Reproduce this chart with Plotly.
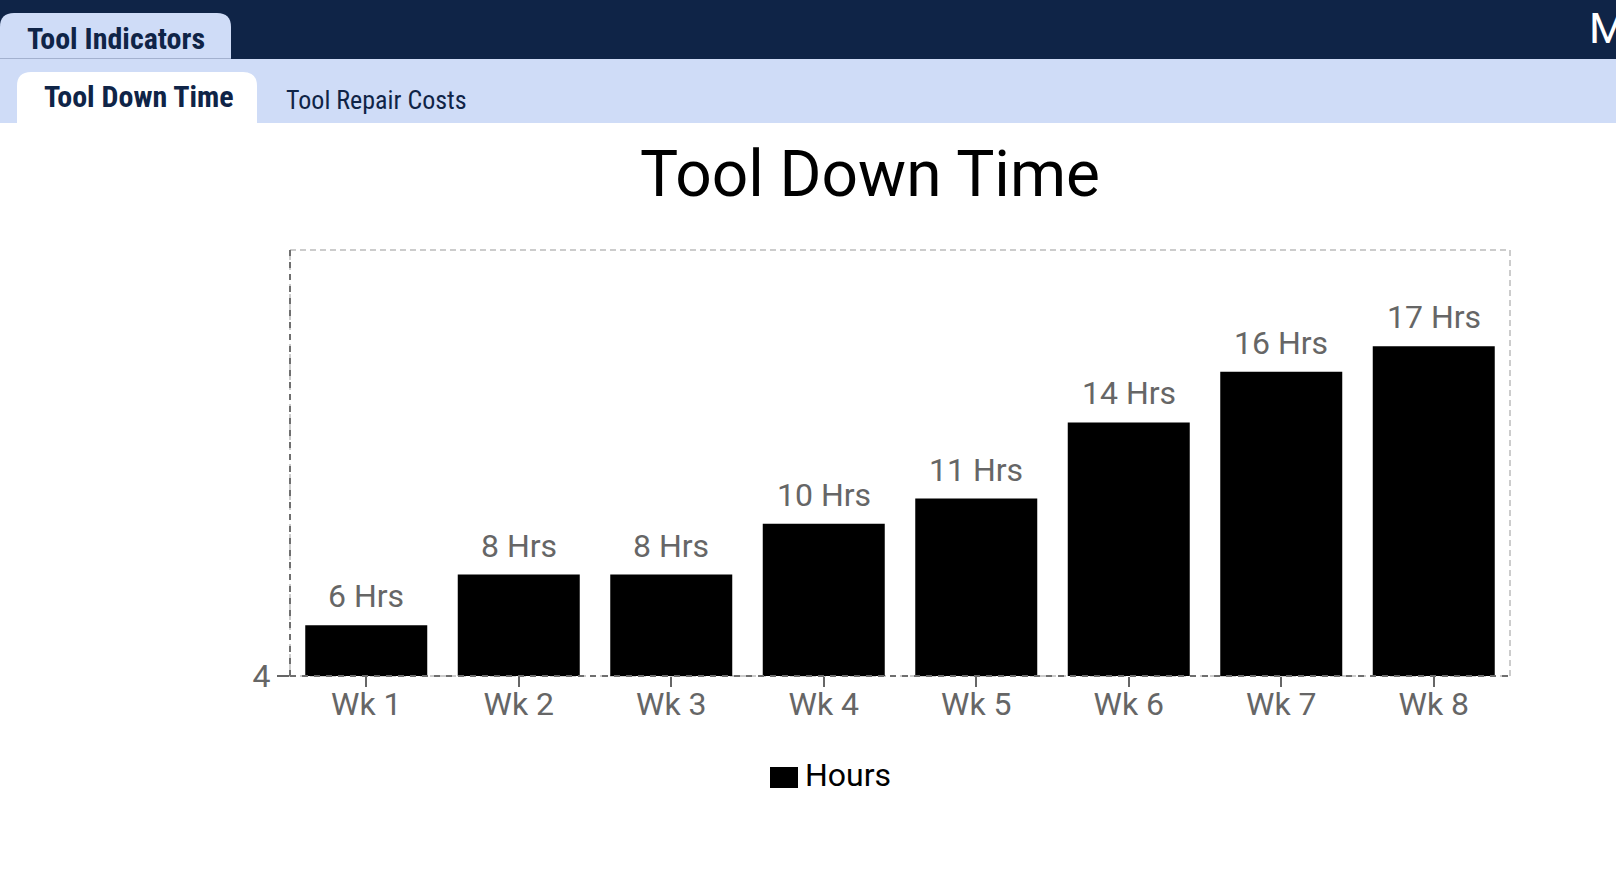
import plotly.graph_objects as go

# chart data
weeks = ["Wk 1", "Wk 2", "Wk 3", "Wk 4", "Wk 5", "Wk 6", "Wk 7", "Wk 8"]
hours = [6, 8, 8, 10, 11, 14, 16, 17]
series_name = "Hours"
y_ticks = [4]

W, H = 1616, 876
NAVY = "#0f2447"
LIGHT = "#cfdcf7"
GREY = "#666666"
COND = "Roboto Condensed, Liberation Sans Narrow, DejaVu Sans Condensed, Roboto"


def px(x):
  return x / W


def py(y):
  return 1 - y / H


def tab_path(x0, y0, x1, y1, r):
  """rounded-top tab, pixel coords (y0 top, y1 bottom)"""
  return (f"M {px(x0)},{py(y1)} L {px(x0)},{py(y0 + r)} "
          f"Q {px(x0)},{py(y0)} {px(x0 + r)},{py(y0)} "
          f"L {px(x1 - r)},{py(y0)} Q {px(x1)},{py(y0)} {px(x1)},{py(y0 + r)} "
          f"L {px(x1)},{py(y1)} Z")


fig = go.Figure()
fig.add_trace(go.Bar(x=weeks, y=hours, name=series_name, marker=dict(color="#000000", line=dict(width=0)),
                     showlegend=False))

shapes = []
# header bands
shapes.append(dict(type="rect", xref="paper", yref="paper", x0=0, x1=1, y0=py(59), y1=1,
                   fillcolor=NAVY, line=dict(width=0), layer="below"))
shapes.append(dict(type="rect", xref="paper", yref="paper", x0=0, x1=1, y0=py(123), y1=py(59),
                   fillcolor=LIGHT, line=dict(width=0), layer="below"))
shapes.append(dict(type="path", xref="paper", yref="paper", path=tab_path(0, 13, 231, 59, 14),
                   fillcolor=LIGHT, line=dict(width=0), layer="below"))
shapes.append(dict(type="line", xref="paper", yref="paper", x0=0, x1=px(231), y0=py(58.5), y1=py(58.5),
                   line=dict(color="#a3b1cf", width=1), layer="below"))
shapes.append(dict(type="path", xref="paper", yref="paper", path=tab_path(17, 72, 257, 124, 14),
                   fillcolor="#ffffff", line=dict(width=0), layer="below"))

# dashed frame round the plot area: light box, darker left/bottom axis lines over it
shapes.append(dict(type="rect", xref="paper", yref="paper", x0=px(290), x1=px(1510), y0=py(676), y1=py(250),
                   line=dict(color="#cccccc", width=2, dash="6px,4px"), layer="below"))
for x0, y0, x1, y1 in [(290, 250, 290, 676), (290, 676, 1510, 676)]:
  shapes.append(dict(type="line", xref="paper", yref="paper", x0=px(x0), x1=px(x1), y0=py(y0), y1=py(y1),
                     line=dict(color="#6f6f6f", width=2, dash="6px,6px"), layer="above"))

# legend
shapes.append(dict(type="rect", xref="paper", yref="paper", x0=px(770), x1=px(798), y0=py(788), y1=py(767),
                   fillcolor="#000000", line=dict(width=0)))

annotations = []
for w, h in zip(weeks, hours):
  annotations.append(dict(x=w, y=h, xref="x", yref="y", text=f"{h} Hrs", showarrow=False,
                          yanchor="bottom", yshift=8, font=dict(family="Roboto", size=32, color=GREY)))

header = [
  ("Tool Indicators", 25, 38, 30, "bold", NAVY),
  ("Tool Down Time", 42, 96, 30, "bold", NAVY),
  ("Tool Repair Costs", 284, 100, 26, "normal", NAVY),
]
for txt, x, y, size, weight, col in header:
  annotations.append(dict(x=px(x), y=py(y), xref="paper", yref="paper", text=txt, showarrow=False,
                          xanchor="left", yanchor="middle",
                          font=dict(family=COND, size=size, color=col, weight=weight)))
annotations.append(dict(x=px(1587), y=py(28), xref="paper", yref="paper", text="M", showarrow=False,
                        xanchor="left", yanchor="middle", font=dict(family="Roboto", size=43, color="#ffffff")))
annotations.append(dict(x=px(803), y=py(775), xref="paper", yref="paper", text=series_name, showarrow=False,
                        xanchor="left", yanchor="middle", font=dict(family="Roboto", size=32, color="#000000")))

fig.update_layout(
  width=W, height=H, autosize=False,
  margin=dict(l=0, r=0, t=0, b=0, autoexpand=False),
  paper_bgcolor="#ffffff", plot_bgcolor="#ffffff",
  title=dict(text="Tool Down Time", x=px(870), y=py(174), xref="container", yref="container",
             xanchor="center", yanchor="middle", font=dict(family="Roboto", size=64, color="#000000")),
  bargap=0.2,
  shapes=shapes,
  annotations=annotations,
  xaxis=dict(domain=[px(290), px(1510)], showgrid=False, zeroline=False, showline=False, automargin=False,
             ticks="outside", ticklen=10, tickwidth=1.5, tickcolor=GREY, ticklabelstandoff=-10,
             tickfont=dict(family="Roboto", size=32, color=GREY)),
  yaxis=dict(domain=[py(676), py(250)], range=[4, 20.8], showgrid=False, zeroline=False, showline=False,
             automargin=False, tickvals=y_ticks, ticks="outside", ticklen=12, tickwidth=1.5, tickcolor=GREY,
             tickfont=dict(family="Roboto", size=32, color=GREY)),
)

# drop the page's default body margin so the figure sits in the corner
fig.write_html("out.html", config=dict(displayModeBar=False),
               post_script="document.body.style.margin='0';document.body.style.overflow='hidden';")
